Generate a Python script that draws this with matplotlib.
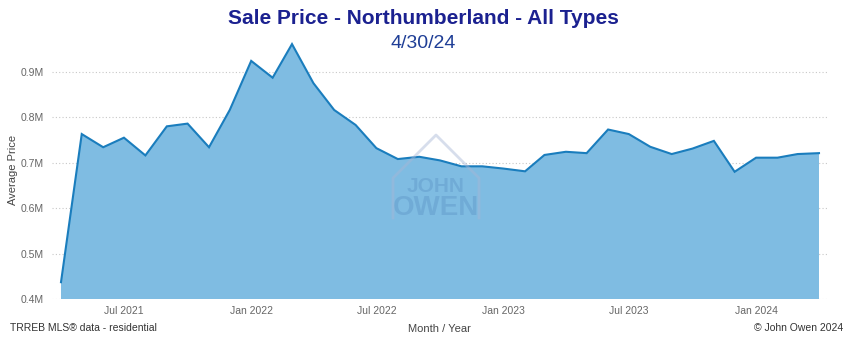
import matplotlib
matplotlib.use("Agg")
import matplotlib.pyplot as plt
import matplotlib.dates as mdates
from matplotlib.ticker import FuncFormatter
import pandas as pd
import datetime as dt

# ---- data ----
months = pd.date_range("2021-04-01", "2024-04-01", freq="MS")
avg_price_m = [0.437, 0.763, 0.734, 0.755, 0.716, 0.780, 0.786, 0.734, 0.816, 0.924,
               0.887, 0.961, 0.875, 0.816, 0.783, 0.732, 0.708, 0.713, 0.705, 0.692,
               0.692, 0.687, 0.681, 0.717, 0.724, 0.721, 0.773, 0.763, 0.735, 0.719,
               0.731, 0.748, 0.680, 0.711, 0.711, 0.719, 0.721]
y_ticks = [0.4, 0.5, 0.6, 0.7, 0.8, 0.9]
x_tick_dates = ["2021-07-01", "2022-01-01", "2022-07-01", "2023-01-01", "2023-07-01", "2024-01-01"]

title = "Sale Price - Northumberland - All Types"
subtitle = "4/30/24"

plt.rcParams["font.family"] = ["Liberation Sans", "DejaVu Sans"]

W, H = 847, 343
fig = plt.figure(figsize=(W / 100, H / 100), dpi=100)
ax = fig.add_axes([52 / W, 1 - 299 / H, (827 - 52) / W, (299 - 40) / H])

x = mdates.date2num(months.to_pydatetime())
fill_c = "#7FBCE2"
line_c = "#1A7DBD"
ax.fill_between(x, 0, avg_price_m, color=fill_c, lw=0, zorder=2)
ax.plot(x, avg_price_m, color=line_c, lw=1.5, zorder=3, solid_joinstyle="miter")

day = (x[-1] - x[0]) / 758.0  # days per pixel
ax.set_xlim(x[0] - 9 * day, x[-1] + 8 * day)
ax.set_ylim(0.4, 0.97)

ax.set_yticks(y_ticks)
ax.yaxis.set_major_formatter(FuncFormatter(lambda v, p: f"{v:.1f}M"))
ax.set_xticks(mdates.date2num([dt.datetime.fromisoformat(d) for d in x_tick_dates]))
ax.xaxis.set_major_formatter(mdates.DateFormatter("%b %Y"))

ax.grid(axis="y", color="#C8C8C8", linestyle=(0, (1, 2)), lw=0.8, zorder=1)
for s in ax.spines.values():
    s.set_visible(False)
ax.tick_params(axis="both", length=0, labelsize=7.5, colors="#666666")
ax.tick_params(axis="y", pad=6)
ax.tick_params(axis="x", pad=5)

fig.text(13 / W, 1 - 170 / H, "Average Price", rotation=90, ha="center", va="center",
         fontsize=8, color="#444444")
ax.set_xlabel("Month / Year", fontsize=8, color="#444444", labelpad=6)

fig.text(0.5, 1 - 19 / H, title, ha="center", va="center", fontsize=15,
         fontweight="bold", color="#1B2190")
fig.text(0.5, 1 - 44 / H, subtitle, ha="center", va="center", fontsize=14,
         color="#1F3E96")

fig.text(10 / W, 1 - 328 / H, "TRREB MLS\u00ae data - residential", ha="left",
         va="center", fontsize=7.5, color="#333333")
fig.text(843 / W, 1 - 328 / H, "\u00a9 John Owen 2024", ha="right", va="center",
         fontsize=7.5, color="#333333")

# watermark
fig.lines.append(plt.Line2D([393 / W, 393 / W, 436 / W, 479 / W, 479 / W],
                            [1 - 218 / H, 1 - 178 / H, 1 - 135 / H, 1 - 178 / H, 1 - 218 / H],
                            transform=fig.transFigure, color="#A8B6D6", lw=2, alpha=0.45,
                            zorder=5))
fig.text(436 / W, 1 - 186 / H, "JOHN", ha="center", va="center", fontsize=15,
         fontweight="bold", color="#5F97C8", alpha=0.45)
fig.text(436 / W, 1 - 208 / H, "OWEN", ha="center", va="center", fontsize=20,
         fontweight="bold", color="#5F97C8", alpha=0.45)

fig.savefig("out.png", dpi=100)
